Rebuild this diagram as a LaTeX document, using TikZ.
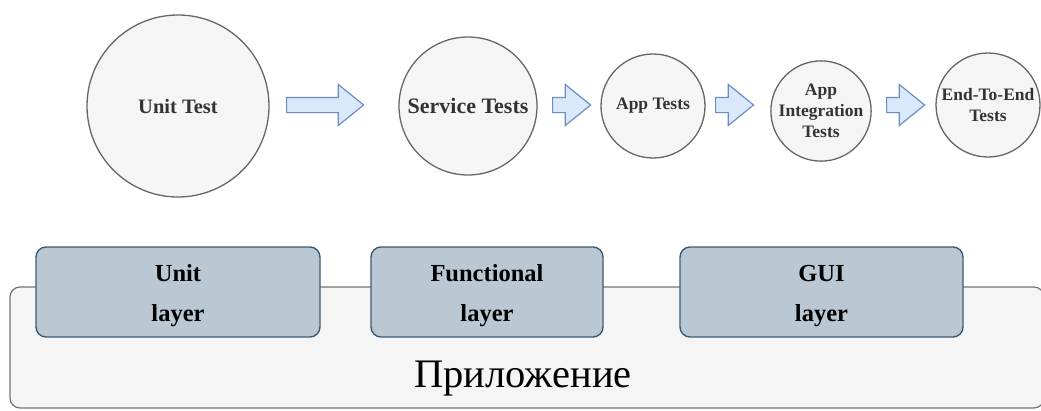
\documentclass[tikz,border=0pt]{standalone}
\usepackage{fontspec}
\setmainfont{Liberation Serif}[BoldFont={Liberation Serif Bold}]
\usetikzlibrary{shapes.arrows}
\begin{document}
\begin{tikzpicture}[x=1pt, y=-1pt,
  test/.style={circle, draw=black!60, fill=black!4, line width=1.3pt, inner sep=0pt, align=center, text=black!80},
  flow/.style={single arrow, anchor=west, draw=arrowline, fill=arrowfill, line width=1.2pt, inner sep=7pt, single arrow head extend=13pt, single arrow tip angle=78},
  layerbox/.style={rectangle, rounded corners=10pt, draw=layerline, fill=layerfill, line width=1.4pt, minimum width=#1, minimum height=90pt},
  layertext/.style={align=center, font=\fontsize{24.5}{40}\selectfont\bfseries},
  appbox/.style={rectangle, rounded corners=10pt, draw=black!55, fill=black!4, line width=1.2pt}]
\definecolor{arrowfill}{HTML}{DAE8FC}
\definecolor{arrowline}{HTML}{6C8EBF}
\definecolor{layerfill}{HTML}{BAC8D3}
\definecolor{layerline}{HTML}{3D5A73}
\useasboundingbox (0,0) rectangle (1041,410);

\node[test, minimum size=182pt, font=\fontsize{20.5}{24}\selectfont\bfseries] at (178,106) (unit) {Unit Test};
\node[test, minimum size=138pt, font=\fontsize{22}{24}\selectfont\bfseries] at (468,106) (service) {Service Tests};
\node[test, minimum size=104pt, font=\fontsize{17.5}{21}\selectfont\bfseries] at (653,106) (app) {App Tests};
\node[test, minimum size=100pt, font=\fontsize{17.5}{21}\selectfont\bfseries] at (821,111) (appint) {App\\Integration\\Tests};
\node[test, minimum size=104pt, font=\fontsize{17.5}{21}\selectfont\bfseries] at (988,105) (e2e) {End-To-End\\Tests};

\node[flow, minimum height=77pt] at (286,105) (unitservice) {};
\node[flow, minimum height=38pt] at (552,105) (serviceapp) {};
\node[flow, minimum height=38pt] at (715,105) (appappint) {};
\node[flow, minimum height=38pt] at (886,105) (appinte2e) {};

\node[appbox, minimum width=1034pt, minimum height=121pt] at (527,347.5) (application) {};
\node[font=\fontsize{40.5}{46}\selectfont] at (523,379) (apptitle) {Приложение};

\node[layerbox=284pt] at (178,292) (unitlayer) {};
\node[layerbox=232pt] at (487,292) (funclayer) {};
\node[layerbox=283pt] at (821.5,292) (guilayer) {};
\node[layertext] at ([yshift=-4pt]unitlayer.center) (unitlabel) {Unit\\layer};
\node[layertext] at ([yshift=-4pt]funclayer.center) (funclabel) {Functional\\layer};
\node[layertext] at ([yshift=-4pt]guilayer.center) (guilabel) {GUI\\layer};

\end{tikzpicture}
\end{document}
